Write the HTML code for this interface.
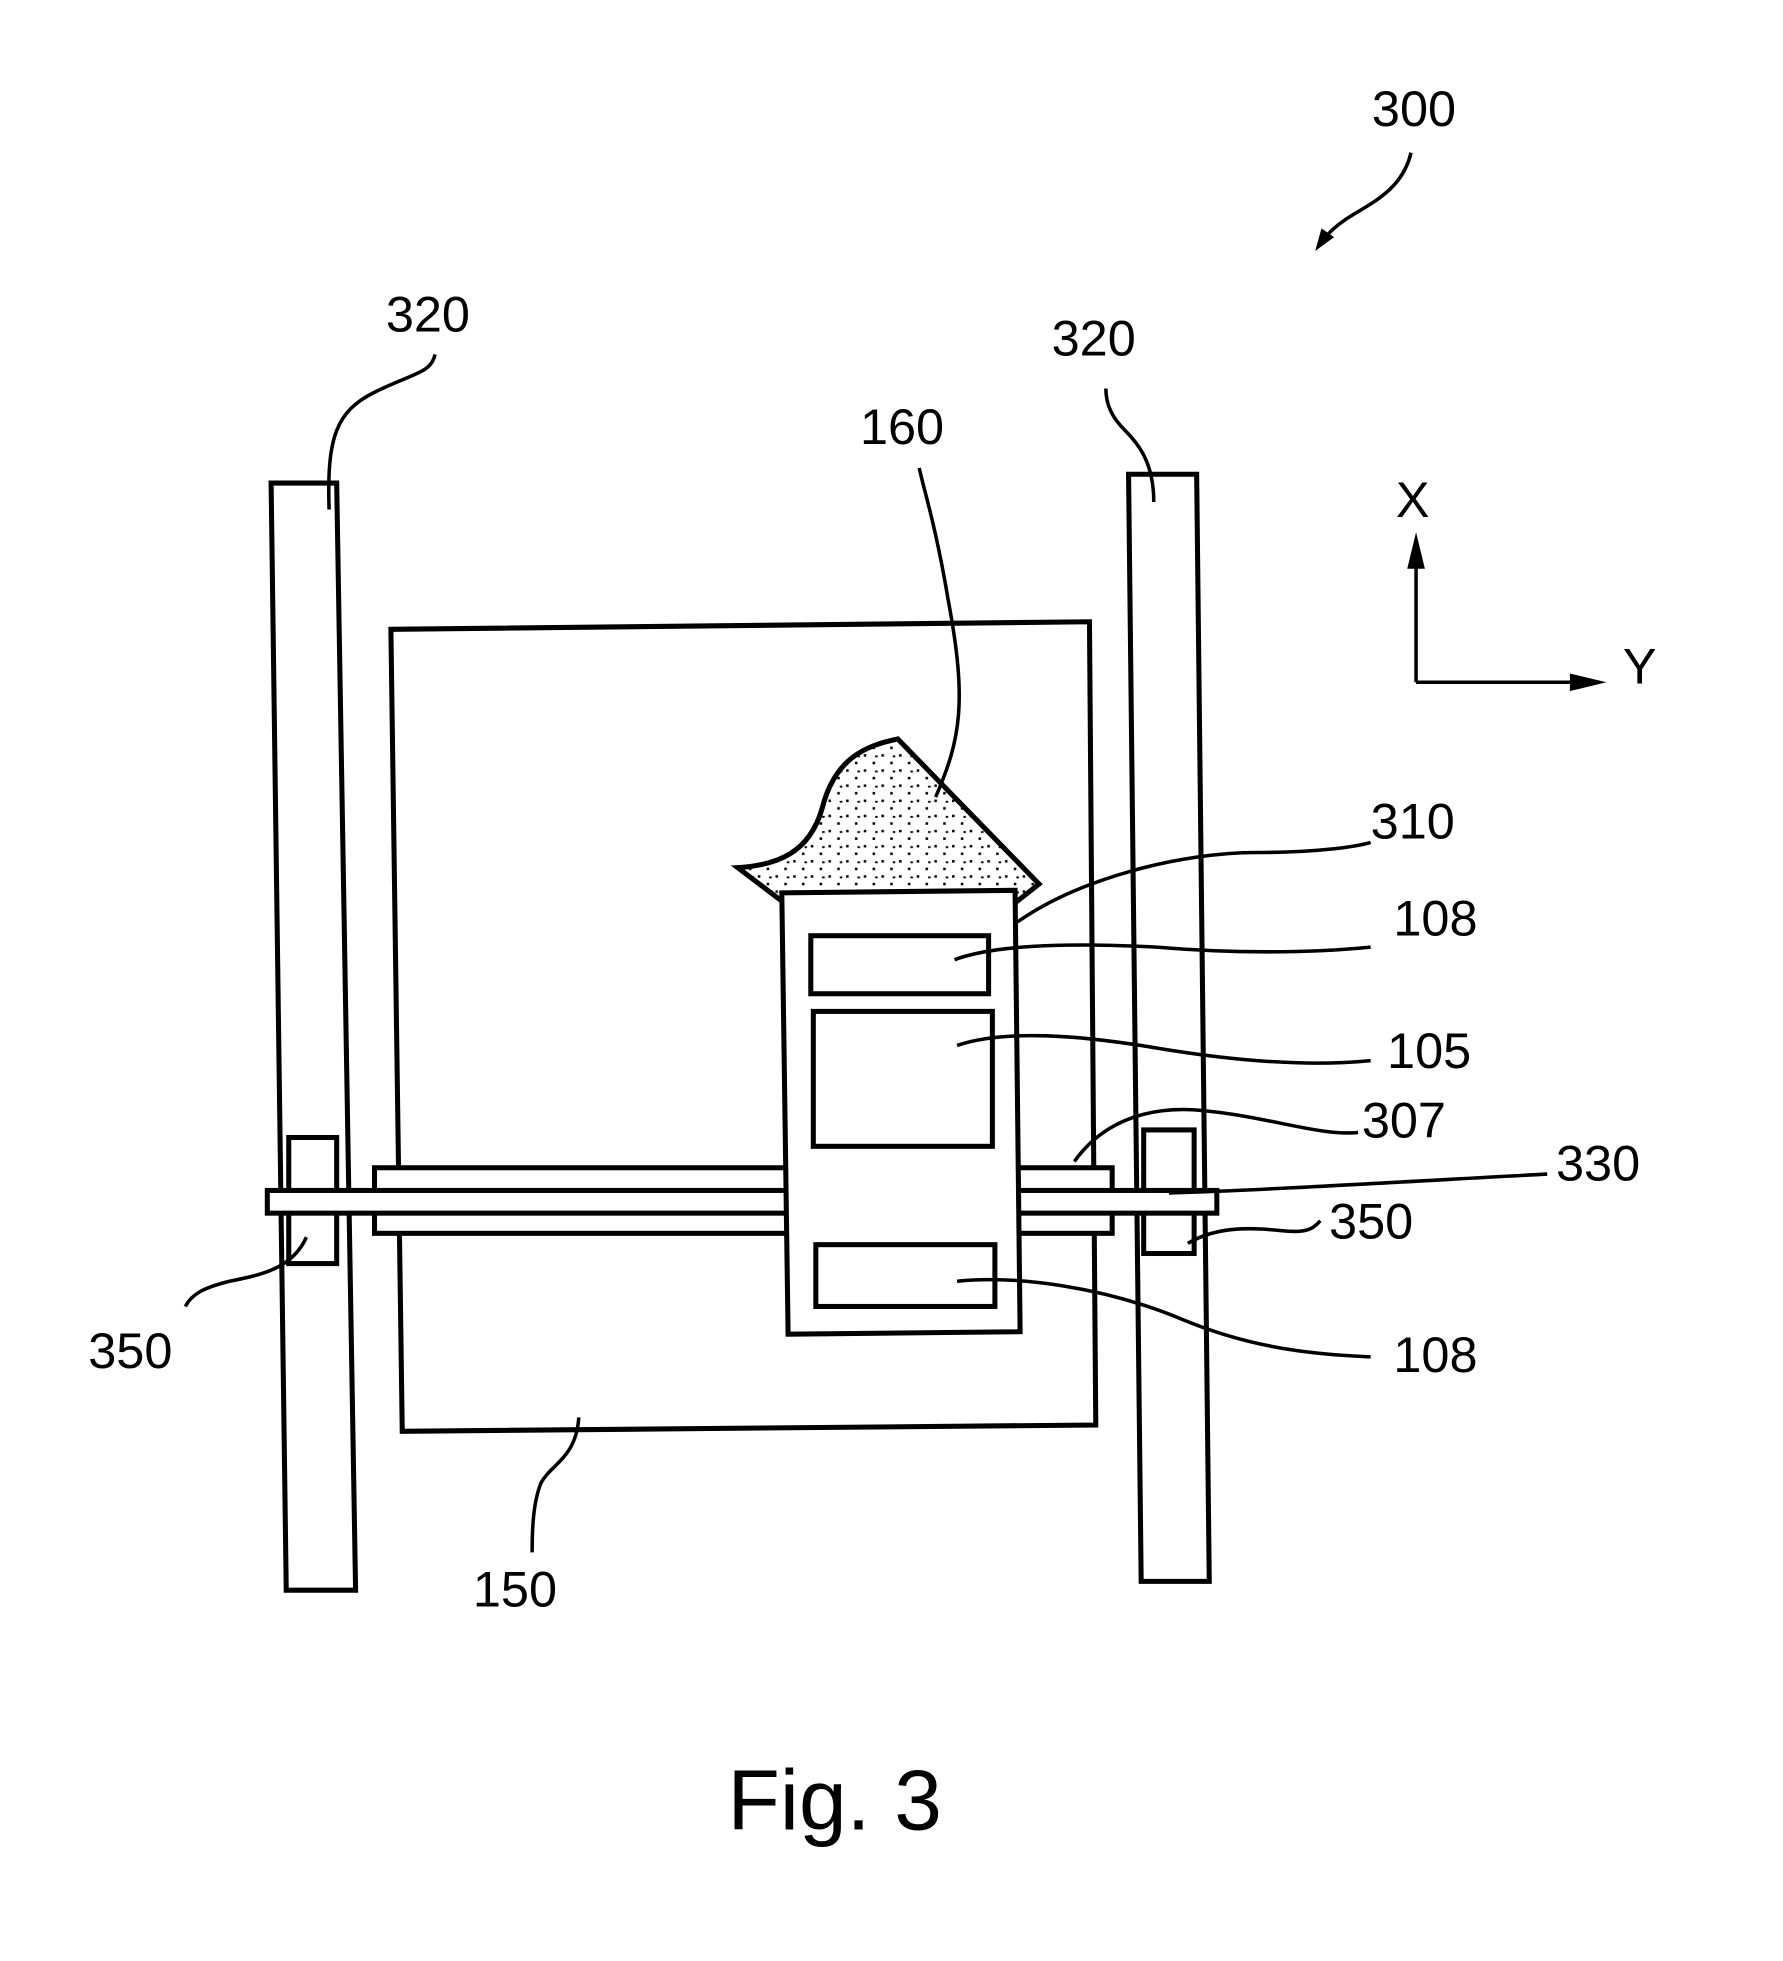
<!DOCTYPE html>
<html><head><meta charset="utf-8"><style>
html,body{margin:0;padding:0;background:#fff;}
svg{display:block;}
text{font-family:"Liberation Sans",Arial,sans-serif;fill:#000;}
</style></head><body>
<svg width="1783" height="1961" viewBox="0 0 1414 1555" xmlns="http://www.w3.org/2000/svg">
<defs>
<pattern id="dots" width="14" height="12" patternUnits="userSpaceOnUse">
<rect x="2" y="2" width="2" height="2" fill="#000"/><rect x="9" y="8" width="2" height="2" fill="#000"/><rect x="11" y="3" width="2" height="1.5" fill="#000"/>
</pattern>
</defs>
<g transform="translate(-3,-4)">
<g fill="none" stroke="#000" stroke-width="4" stroke-linejoin="miter">
<polygon points="218,387 270,387 285,1265 230,1265" fill="#fff"/>
<polygon points="898,380 952,380 962,1258 908,1258" fill="#fff"/>
<polygon points="313,503 867,497 872,1134 322,1139" fill="#fff"/>
<rect x="232" y="906" width="38" height="100"/>
<rect x="910" y="900" width="40" height="98"/>
<rect x="300" y="930" width="585" height="52" fill="#fff"/>
<rect x="215" y="948" width="753" height="18" fill="#fff"/>
<path d="M588,692 C620,690 645,680 655,645 C665,605 690,595 715,590 L827,705 L808,720 L625,720 Z" fill="url(#dots)"/>
<polygon points="623,712 808,710 812,1060 628,1062" fill="#fff"/>
<rect x="646" y="746" width="141" height="46"/>
<rect x="648" y="806" width="142" height="107"/>
<rect x="650" y="991" width="142" height="49"/>
</g>
<g fill="none" stroke="#000" stroke-width="2.8">
<path d="M264,408 C262,350 270,330 300,315 C330,300 345,300 348,285"/>
<path d="M918,402 C918,370 905,355 895,345 C885,335 880,325 880,312"/>
<path d="M745,636 C765,590 770,560 755,480 C745,420 735,390 732,375"/>
<path d="M810,735 C860,700 940,680 1000,680 C1050,680 1080,675 1090,672"/>
<path d="M760,765 C800,750 880,753 920,755 C980,760 1040,760 1090,755"/>
<path d="M762,833 C800,820 860,825 920,835 C980,845 1040,850 1090,845"/>
<path d="M855,925 C880,890 920,880 960,885 C1010,890 1050,905 1080,902"/>
<path d="M930,950 C1000,948 1100,942 1230,935"/>
<path d="M945,990 C970,975 1000,978 1020,980 C1040,982 1045,978 1050,972"/>
<path d="M762,1020 C810,1015 880,1025 940,1050 C1000,1075 1050,1078 1090,1080"/>
<path d="M246,985 C235,1010 210,1015 185,1020 C165,1025 155,1030 150,1040"/>
<path d="M462,1128 C460,1160 440,1165 432,1180 C426,1195 425,1215 425,1235"/>
<path d="M1126,545 L1126,440 M1126,545 L1255,545"/>
<path d="M1122,125 C1115,155 1090,165 1070,178 C1060,185 1055,190 1052,196"/>
</g>
<polygon points="1126,426 1119,455 1133,455" fill="#000"/>
<polygon points="1277,545 1248,538 1248,552" fill="#000"/>
<polygon points="1046,203 1051,185 1061,192" fill="#000"/>
<g font-size="40">
<text x="1091" y="104">300</text>
<text x="309" y="267">320</text>
<text x="837" y="286">320</text>
<text x="685" y="356">160</text>
<text x="1090" y="669">310</text>
<text x="1108" y="746">108</text>
<text x="1103" y="851">105</text>
<text x="1083" y="906">307</text>
<text x="1237" y="940">330</text>
<text x="1057" y="986">350</text>
<text x="1108" y="1092">108</text>
<text x="73" y="1089">350</text>
<text x="378" y="1278">150</text>
<text x="1110" y="414">X</text>
<text x="1290" y="546">Y</text>
</g>
<text x="580" y="1455" font-size="68">Fig. 3</text>
</g>
</svg>
</body></html>
